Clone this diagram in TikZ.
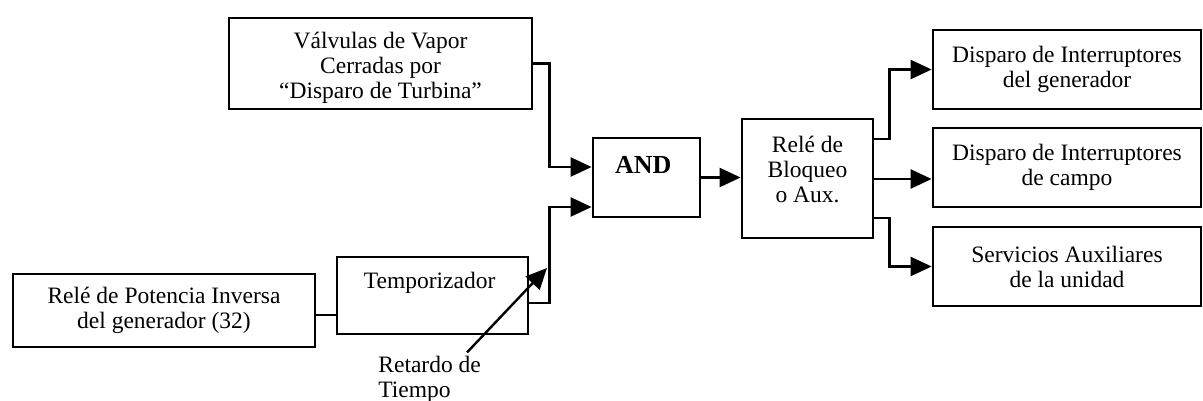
\documentclass[tikz,border=0pt]{standalone}
\usepackage{fontspec}
\setmainfont{Liberation Serif}
\usetikzlibrary{positioning, arrows.meta, calc}
\newcommand{\lowpad}[1]{\rule[-#1]{0pt}{#1}}
\newcommand{\toppad}[1]{\rule{0pt}{#1}}

\begin{document}
\begin{tikzpicture}[x=0.5pt, y=-0.5pt]
  \tikzset{
    block/.style={
      draw,
      line width=1.4pt,
      align=center,
      inner sep=0pt,
      font=\fontsize{11.75}{12.5}\selectfont
    },
    andbox/.style={
      block,
      font=\fontsize{13}{14}\selectfont\bfseries
    },
    wire/.style={line width=1.2pt},
    arr/.style={wire, -{Triangle[length=10.5pt,width=9.5pt]}},
    note/.style={
      align=left,
      inner sep=0pt,
      font=\fontsize{11.75}{12.5}\selectfont
    }
  }
  \useasboundingbox (0,0) rectangle (1203,401);

  % Entradas
  \node[block, minimum width=151.5pt, minimum height=45.5pt] at (380.5,63.5) (valv) {
    \toppad{12.5pt}Válvulas de Vapor\\Cerradas por\\“Disparo de Turbina”
  };
  \node[block, minimum width=151pt, minimum height=36.5pt] at (164,310.5) (pot) {
    Relé de Potencia Inversa\\del generador (32)
  };
  \node[block, minimum width=95.5pt, minimum height=38.5pt] at (432.5,295.5) (temp) {
    Temporizador\lowpad{15pt}
  };
  \node[note, anchor=west] at (378,379) (ret) {
    Retardo de\\Tiempo
  };

  % Logica
  \node[andbox, minimum width=53.5pt, minimum height=39.5pt] at (646.5,177.5) (and) {
    AND\lowpad{12.5pt}
  };
  \node[block, minimum width=65.5pt, minimum height=59.5pt] at (807.5,178.5) (bloq) {
    Relé de\\Bloqueo\\o Aux.\lowpad{9.5pt}
  };

  % Salidas
  \node[block, minimum width=134pt, minimum height=39.5pt] at (1067,69.5) (out1) {
    Disparo de Interruptores\\del generador
  };
  \node[block, minimum width=134pt, minimum height=39.5pt] at (1067,167.5) (out2) {
    Disparo de Interruptores\\de campo
  };
  \node[block, minimum width=134pt, minimum height=39.5pt] at (1067,266.5) (out3) {
    Servicios Auxiliares\\de la unidad
  };

  % Conexiones
  \draw[arr] (valv.east) -- ++(16,0) |- ($(and.west)+(0,-10.5)$);
  \draw[wire] ($(pot.east)+(0,4.5)$) coordinate (potout) -- (potout -| temp.west);
  \draw[arr] ($(temp.east)+(0,7.5)$) -- ++(20,0) |- ($(and.west)+(0,29.5)$);
  \draw[arr] (and.east) -- (and.east -| bloq.west);
  \draw[arr] ($(bloq.east)+(0,-39.5)$) -- ++(15,0) |- (out1.west);
  \draw[arr] ($(bloq.east)+(0,0.5)$) coordinate (bmid) -- (bmid -| out2.west);
  \draw[arr] ($(bloq.east)+(0,39.5)$) -- ++(15,0) |- (out3.west);

  % Retardo
  \coordinate (tip) at (547,268);
  \draw[arr] ($(ret.north west)+(89,-3)$) -- (tip);
\end{tikzpicture}
\end{document}
